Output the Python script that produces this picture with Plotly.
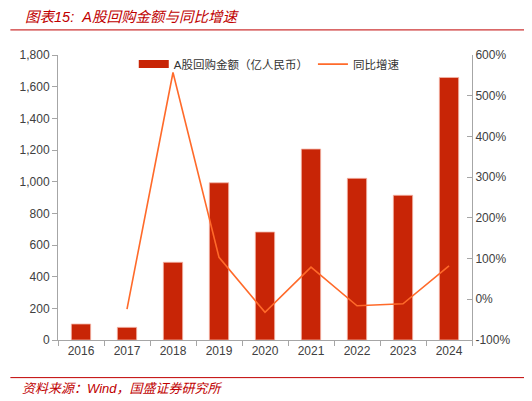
import plotly.graph_objects as go

# A股回购金额与同比增速
years = ["2016", "2017", "2018", "2019", "2020", "2021", "2022", "2023", "2024"]
buyback = [101, 80, 491, 993, 682, 1206, 1021, 914, 1658]
yoy = [None, -24, 557, 103, -32, 79, -16, -11, 82]

left_ticks = [0, 200, 400, 600, 800, 1000, 1200, 1400, 1600, 1800]
right_ticks = [-100, 0, 100, 200, 300, 400, 500, 600]

font = "Liberation Sans, Arial, Noto Sans CJK SC"
red = "#C00000"
bar_color = "#C82506"

fig = go.Figure()
fig.add_trace(go.Bar(x=years, y=buyback, name="A股回购金额（亿人民币）", showlegend=False,
                     marker=dict(color=bar_color, line=dict(color="#F4B6A8", width=0.8))))
# legend proxy so the bar key is a wide rectangle
fig.add_trace(go.Scatter(x=[None], y=[None], name="A股回购金额（亿人民币）", mode="lines",
                         line=dict(color=bar_color, width=8)))
fig.add_trace(go.Scatter(x=years, y=yoy, name="同比增速", yaxis="y2", mode="lines",
                         line=dict(color="#FF6A2A", width=1.6), connectgaps=False))

fig.update_layout(
    width=524, height=393,
    margin=dict(l=48, r=60, t=47, b=61),
    paper_bgcolor="white", plot_bgcolor="white",
    font=dict(family=font, size=12, color="#404040"),
    bargap=0.58,
    showlegend=True,
    legend=dict(orientation="h", x=0.183, y=0.968, xanchor="left", yanchor="middle",
                bgcolor="rgba(0,0,0,0)", font=dict(size=11.5, color="#333333")),
    xaxis=dict(showline=True, linecolor="#A6A6A6", linewidth=1, ticks="outside",
               tickcolor="#A6A6A6", ticklen=5, tickson="boundaries", showgrid=False,
               tickfont=dict(size=12, color="#404040")),
    yaxis=dict(range=[0, 1800], tickvals=left_ticks, tickformat=",", showgrid=False,
               showline=True, linecolor="#A6A6A6", ticks="outside", tickcolor="#A6A6A6",
               ticklen=5, zeroline=False, tickfont=dict(size=12, color="#404040")),
    yaxis2=dict(range=[-100, 600], tickvals=right_ticks,
                ticktext=[f"{v}%" for v in right_ticks], overlaying="y", side="right",
                showgrid=False, showline=True, linecolor="#A6A6A6", ticks="inside",
                tickcolor="#A6A6A6", ticklen=5, zeroline=False,
                tickfont=dict(size=12, color="#404040")),
)

fig.add_annotation(text="图表15:  A股回购金额与同比增速", xref="paper", yref="paper",
                   x=-0.085, y=1.135, xanchor="left", yanchor="middle", showarrow=False,
                   font=dict(family=font, size=14.5, color=red, style="italic"))
fig.add_annotation(text="资料来源：Wind，国盛证券研究所", xref="paper", yref="paper",
                   x=-0.092, y=-0.17, xanchor="left", yanchor="middle", showarrow=False,
                   font=dict(family=font, size=13, color=red, style="italic"))
fig.add_shape(type="line", xref="paper", yref="paper", x0=-0.115, x1=1.132, y0=1.088, y1=1.088,
              line=dict(color=red, width=1))
fig.add_shape(type="line", xref="paper", yref="paper", x0=-0.115, x1=1.132, y0=-0.132, y1=-0.132,
              line=dict(color=red, width=1))

fig.write_html("out.html")
